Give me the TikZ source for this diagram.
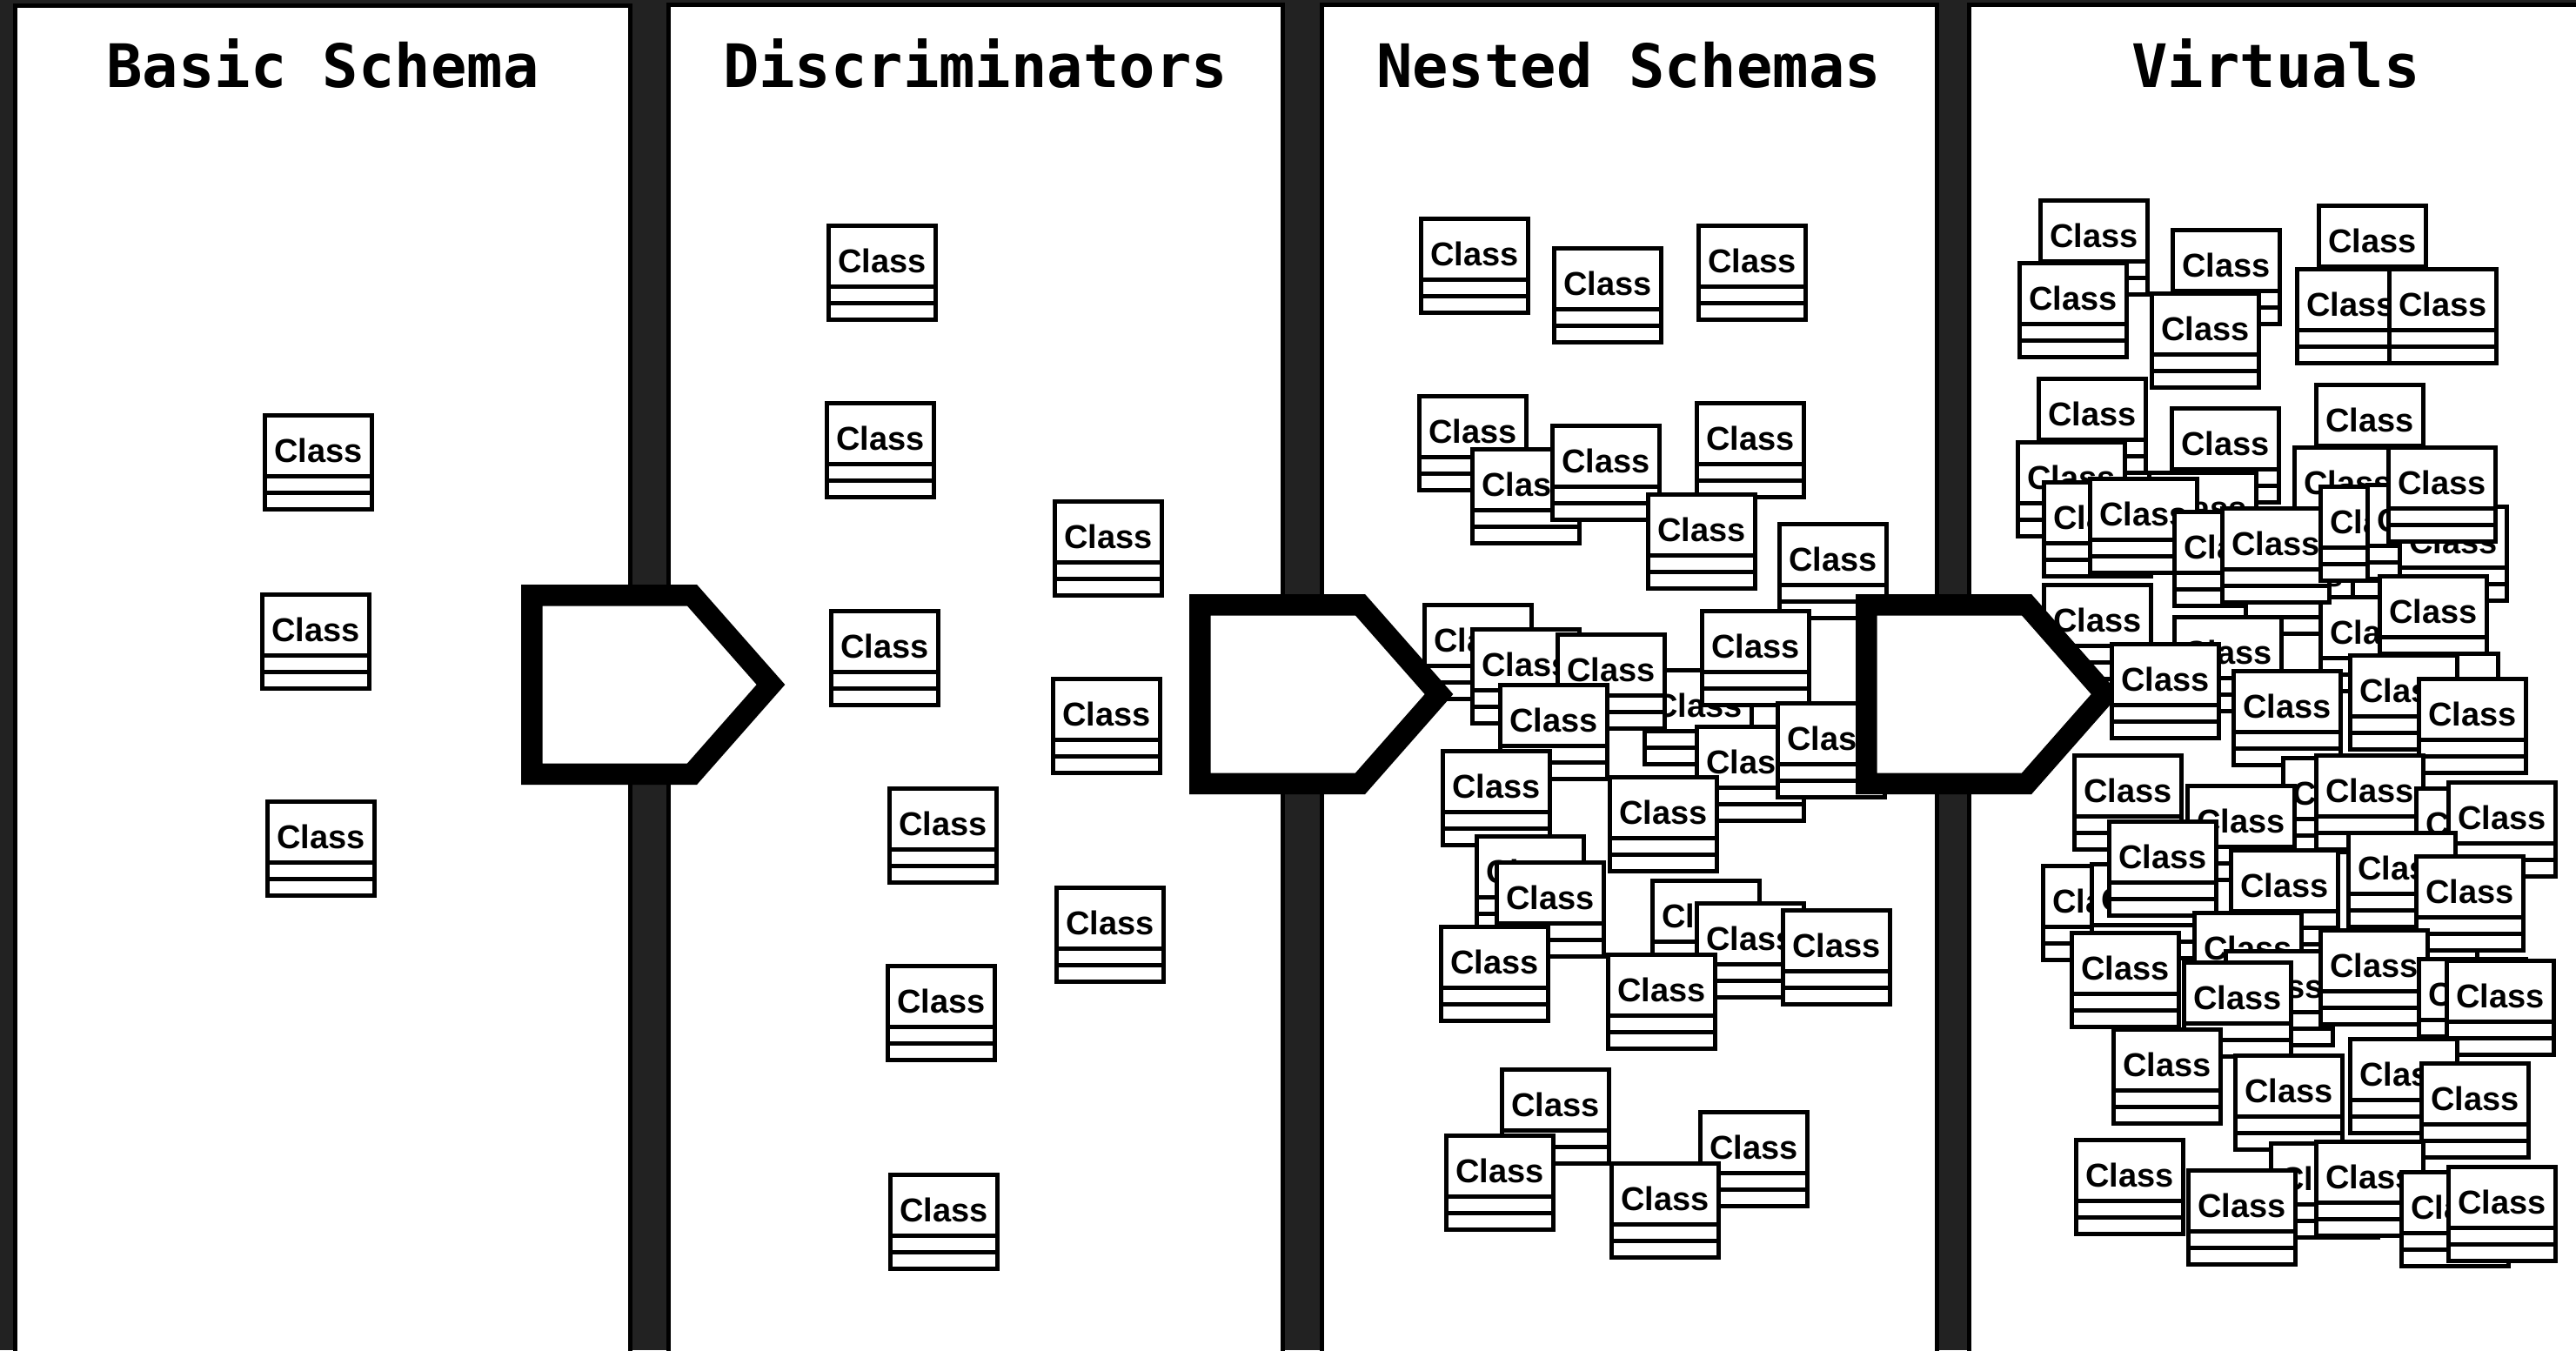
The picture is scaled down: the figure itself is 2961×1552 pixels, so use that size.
\documentclass[tikz,border=0pt]{standalone}
\usepackage{fontspec}
\newfontfamily\titlefont{DejaVu Sans Mono}
\newfontfamily\classfont{Liberation Sans}
\definecolor{backdrop}{HTML}{222222}

\tikzset{
  panel/.style={draw=black, fill=white, line width=1.25pt},
  paneltitle/.style={anchor=base, inner sep=0pt,
    font=\titlefont\bfseries\fontsize{17.2}{21}\selectfont},
  classbox/.style={draw=black, fill=white, line width=1.25pt,
    anchor=north west, inner sep=0pt,
    minimum width=30.75pt, minimum height=27pt,
    text height=0pt, text depth=0pt,
    font=\classfont\bfseries\fontsize{9.5}{10}\selectfont,
    path picture={
      \draw[line width=1.25pt]
        ([yshift=-17.5pt]path picture bounding box.north west) --
        ([yshift=-17.5pt]path picture bounding box.north east);
      \draw[line width=1.25pt]
        ([yshift=-22.25pt]path picture bounding box.north west) --
        ([yshift=-22.25pt]path picture bounding box.north east);
    }},
  flow/.style={draw=black, fill=white, line width=6.125pt, line join=miter, miter limit=10},
}

% block arrow between two panels, (#1,#2) = outer top-left corner
\newcommand\flowarrow[2]{%
  \begin{scope}[shift={(#1,#2)}]
    \filldraw[flow] (12.25,12.25) -- (196.5,12.25) -- (287,115)
      -- (196.5,217.75) -- (12.25,217.75) -- cycle;
  \end{scope}}

\begin{document}
\begin{tikzpicture}[x=0.25pt, y=-0.25pt]
\useasboundingbox (0,0) rectangle (2961,1552);
\fill[backdrop] (0,0) rectangle (2961,1552);

% the four panels
\draw[panel] (17.5,6.5) rectangle (724.5,1600);
\draw[panel] (768.5,5.5) rectangle (1474,1600);
\draw[panel] (1519.5,5.5) rectangle (2226.5,1600);
\draw[panel] (2263.5,5) rectangle (3000,1600);

\node[paneltitle] (t1) at (371,100) {Basic Schema};
\node[paneltitle] (t2) at (1121,100) {Discriminators};
\node[paneltitle] (t3) at (1872,100) {Nested Schemas};
\node[paneltitle] (t4) at (2616,100) {Virtuals};

% Basic Schema
\foreach \x/\y [count=\i] in {302/475, 299/681, 305/919}
  \node[classbox] (b\i) at (\x,\y) {Class};

% Discriminators
\foreach \x/\y [count=\i] in {950/257, 948/461, 1210/574, 953/700, 1208/778,
    1020/904, 1212/1018, 1018/1108, 1021/1348}
  \node[classbox] (d\i) at (\x,\y) {Class};

% Nested Schemas
\foreach \x/\y [count=\i] in {1631/249, 1784/283, 1950/257, 1629/453, 1948/461,
    1690/514, 1782/487, 1892/566, 2043/600, 1635/693, 1690/721, 1888/768,
    1788/727, 1954/700, 1722/785, 1948/833, 2041/806, 1656/861, 1848/891,
    1695/959, 1718/989, 1897/1010, 1948/1036, 2047/1044, 1654/1063,
    1846/1095, 1724/1227, 1660/1303, 1952/1276, 1850/1335}
  \node[classbox] (n\i) at (\x,\y) {Class};

\flowarrow{599}{672}
\flowarrow{1367}{683}

% Virtuals, lower layer
\foreach \x/\y [count=\i] in {2343/228, 2319/300, 2495/262, 2471/335, 2663/234,
    2638/307, 2744/307, 2341/433, 2494/467, 2660/440, 2317/506, 2635/512,
    2468/541, 2347/552, 2400/548, 2497/586, 2579/618, 2665/684, 2552/582,
    2665/557, 2719/555, 2756/580, 2743/512, 2733/660, 2347/670}
  \node[classbox] (v\i) at (\x,\y) {Class};

\flowarrow{2133}{683}

% Virtuals, upper layer
\foreach \x/\y [count=\i] in {2497/707, 2425/738, 2565/769, 2746/749, 2699/751,
    2778/778, 2382/866, 2622/869, 2512/901, 2660/866, 2775/904, 2812/897,
    2346/993, 2402/991, 2422/942, 2722/1001, 2562/975, 2697/955, 2775/982,
    2520/1047, 2556/1091, 2665/1067, 2379/1070, 2508/1104,
    2778/1100, 2810/1102, 2427/1181, 2567/1211, 2699/1192,
    2781/1220, 2384/1308, 2608/1312, 2513/1343, 2660/1310, 2758/1345,
    2812/1339}
  \node[classbox] (w\i) at (\x,\y) {Class};
\end{tikzpicture}
\end{document}
